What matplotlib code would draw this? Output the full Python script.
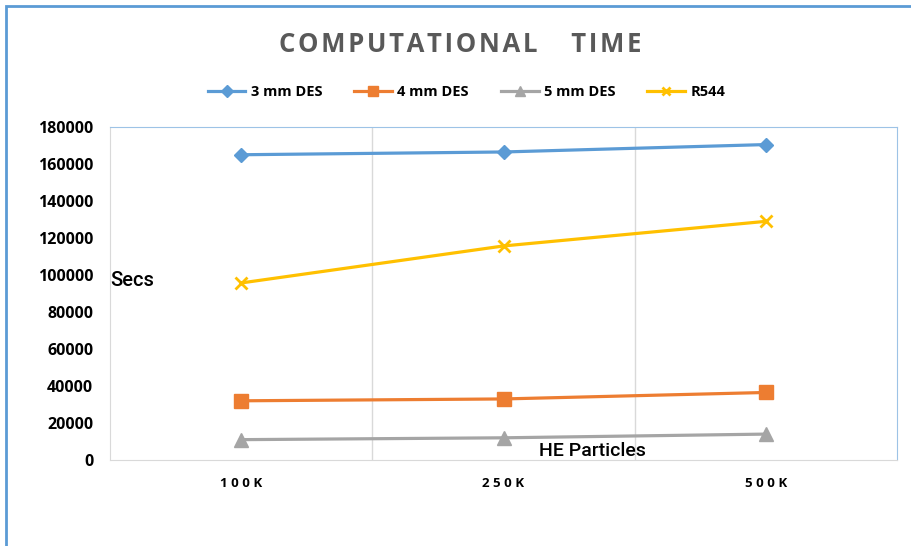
import matplotlib.pyplot as plt
from matplotlib.patches import Rectangle

categories = ["100K", "250K", "500K"]
des_3mm = [165000, 166500, 170500]
des_4mm = [32000, 33000, 36500]
des_5mm = [11000, 12000, 14000]
r544 = [95700, 115700, 129000]
y_ticks = list(range(0, 180001, 20000))

fig = plt.figure(figsize=(9.11, 5.46), dpi=100)
ax = fig.add_axes([110 / 911, 86 / 546, 787 / 911, 333 / 546])

# outer chart frame (only top and left edges fall inside the image)
fig.patches.append(Rectangle((6 / 911, -0.5), 2, 0.5 + (540 / 546), transform=fig.transFigure,
                             fill=False, edgecolor="#5B9BD5", linewidth=2))

x = range(len(categories))
ax.plot(x, des_3mm, color="#5B9BD5", lw=2.3, marker="D", ms=7.5, label="3 mm DES")
ax.plot(x, des_4mm, color="#ED7D31", lw=2.3, marker="s", ms=10, label="4 mm DES")
ax.plot(x, des_5mm, color="#A5A5A5", lw=2.3, marker="^", ms=10.5, label="5 mm DES")
ax.plot(x, r544, color="#FFC000", lw=2.3, marker="x", ms=8, mew=2, label="R544")

ax.set_xlim(-0.5, len(categories) - 0.5)
ax.set_ylim(0, 180000)
ax.set_yticks(y_ticks)
ax.set_yticklabels([str(v) for v in y_ticks], fontsize=11.5, fontweight="bold", family="Open Sans")
ax.set_xticks(list(x))
ax.set_xticklabels([" ".join(c) for c in categories], fontsize=9.5, fontweight="bold", family="Open Sans")
ax.tick_params(length=0, pad=12)
ax.tick_params(axis="y", pad=12)
for b in [0.5, 1.5]:
    ax.axvline(b, color="#D9D9D9", lw=1, zorder=0)

for side in ["left", "bottom"]:
    ax.spines[side].set_color("#D9D9D9")
for side in ["top", "right"]:
    ax.spines[side].set_color("#9DC3E6")

ax.text(0.0, 97000, "Secs", transform=ax.get_yaxis_transform(), fontsize=14.5,
        family="Roboto", fontweight="medium", va="center", ha="left", color="black")
ax.text(1.34, 4800, "HE Particles", fontsize=14, family="Roboto", fontweight="medium",
        va="center", ha="center", color="black")

title = "\u200a".join("COMPUTATIONAL") + "     " + "\u200a".join("TIME")
fig.text(0.505, 1 - 44 / 546, title, ha="center", va="center",
         fontsize=18.5, fontweight="bold", color="#595959", family=["Open Sans", "DejaVu Sans"])

fig.legend(loc="center", bbox_to_anchor=(0.512, 1 - 92 / 546), ncol=4, frameon=False,
           prop={"family": "Open Sans", "weight": "bold", "size": 10.5},
           handlelength=2.6, handletextpad=0.35, columnspacing=2.2, markerscale=0.75)

fig.savefig("out.png", dpi=100)
